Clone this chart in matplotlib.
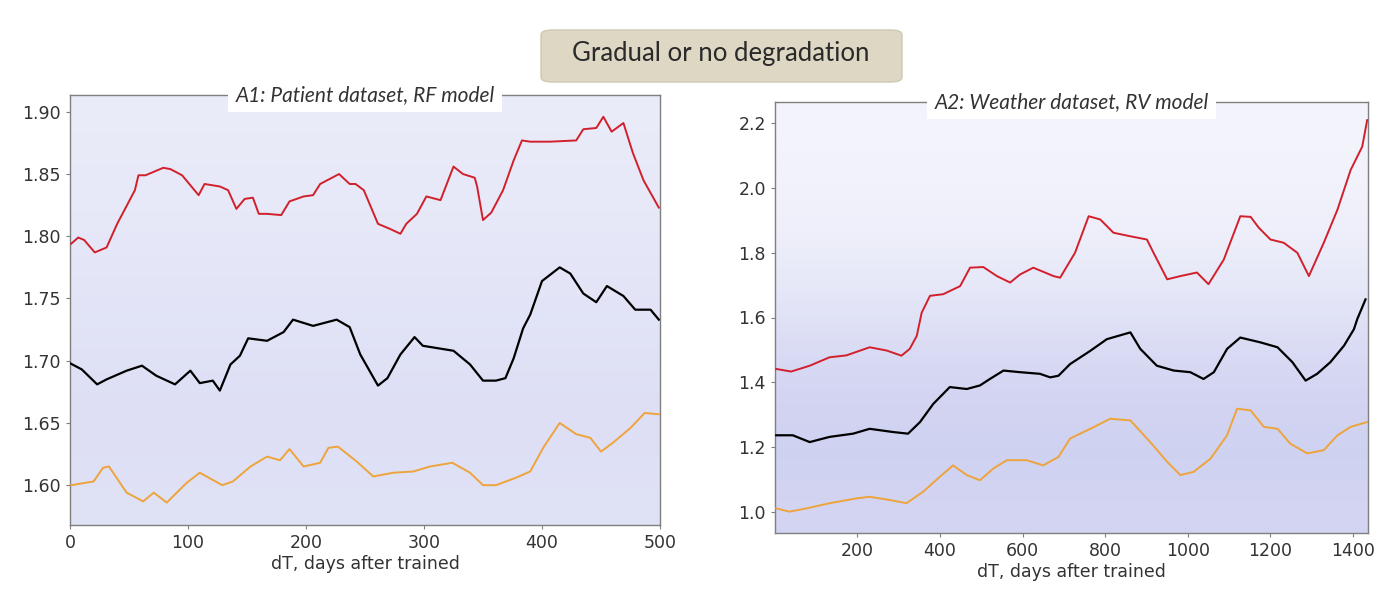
import numpy as np
import matplotlib
matplotlib.use('Agg')
import matplotlib.pyplot as plt
from matplotlib.colors import LinearSegmentedColormap
from matplotlib.patches import FancyBboxPatch

# ---- panel A1: patient dataset, RF model ----
a1_red_days = [1, 7, 12, 21, 31, 40, 55, 58, 64, 79, 85, 95, 109, 114, 127, 134, 141, 148, 155, 160,
               167, 179, 186, 198, 206, 212, 228, 237, 242, 249, 261, 271, 280, 285, 294, 302, 314, 325,
               333, 343, 345, 350, 357, 367, 376, 383, 390, 407, 429, 435, 446, 452, 459, 469, 477, 486, 499]
a1_red = [1.794, 1.799, 1.797, 1.787, 1.791, 1.810, 1.837, 1.849, 1.849, 1.855, 1.854, 1.849, 1.833, 1.842,
          1.840, 1.837, 1.822, 1.830, 1.831, 1.818, 1.818, 1.817, 1.828, 1.832, 1.833, 1.842, 1.850, 1.842,
          1.842, 1.837, 1.810, 1.806, 1.802, 1.810, 1.818, 1.832, 1.829, 1.856, 1.850, 1.847, 1.840, 1.813,
          1.819, 1.837, 1.861, 1.877, 1.876, 1.876, 1.877, 1.886, 1.887, 1.896, 1.884, 1.891, 1.867, 1.845, 1.823]

a1_black_days = [0, 10, 23, 31, 48, 61, 73, 89, 102, 110, 121, 127, 136, 144, 151, 167, 181, 189, 206,
                 226, 237, 246, 261, 269, 280, 292, 299, 325, 339, 350, 361, 369, 376, 384, 390, 400,
                 415, 424, 435, 446, 455, 469, 479, 492, 499]
a1_black = [1.698, 1.693, 1.681, 1.685, 1.692, 1.696, 1.688, 1.681, 1.692, 1.682, 1.684, 1.676, 1.697,
            1.704, 1.718, 1.716, 1.723, 1.733, 1.728, 1.733, 1.727, 1.705, 1.680, 1.686, 1.705, 1.719,
            1.712, 1.708, 1.697, 1.684, 1.684, 1.686, 1.702, 1.726, 1.737, 1.764, 1.775, 1.770, 1.754,
            1.747, 1.760, 1.752, 1.741, 1.741, 1.733]

a1_orange_days = [1, 20, 28, 33, 48, 62, 71, 82, 99, 110, 129, 138, 153, 167, 178, 186, 198, 212, 219,
                  227, 243, 257, 274, 291, 305, 324, 339, 350, 361, 378, 390, 401, 415, 429, 441, 450,
                  460, 475, 487, 499]
a1_orange = [1.600, 1.603, 1.614, 1.615, 1.594, 1.587, 1.594, 1.586, 1.602, 1.610, 1.600, 1.603, 1.615,
             1.623, 1.620, 1.629, 1.615, 1.618, 1.630, 1.631, 1.619, 1.607, 1.610, 1.611, 1.615, 1.618,
             1.610, 1.600, 1.600, 1.606, 1.611, 1.630, 1.650, 1.641, 1.638, 1.627, 1.634, 1.646, 1.658, 1.657]

# ---- panel A2: weather dataset, RV model ----
a2_red_days = [4, 40, 85, 133, 174, 230, 271, 307, 327, 344, 356, 376, 408, 449, 473, 505, 538, 570, 594,
               626, 675, 691, 727, 760, 788, 820, 861, 901, 917, 950, 982, 1022, 1050, 1087, 1127, 1152,
               1172, 1200, 1232, 1265, 1293, 1329, 1362, 1394, 1422, 1434]
a2_red = [1.441, 1.433, 1.451, 1.477, 1.483, 1.508, 1.498, 1.482, 1.503, 1.543, 1.615, 1.667, 1.672, 1.697,
          1.754, 1.756, 1.728, 1.708, 1.733, 1.754, 1.728, 1.723, 1.800, 1.913, 1.903, 1.862, 1.851, 1.841,
          1.800, 1.718, 1.728, 1.739, 1.703, 1.779, 1.913, 1.911, 1.877, 1.841, 1.831, 1.800, 1.728, 1.831,
          1.933, 2.056, 2.128, 2.210]

a2_black_days = [4, 44, 85, 133, 190, 230, 287, 323, 352, 384, 424, 465, 497, 521, 554, 594, 642, 667,
                 687, 715, 764, 804, 861, 885, 925, 966, 1006, 1038, 1063, 1095, 1127, 1176, 1217, 1253,
                 1285, 1313, 1345, 1378, 1402, 1410, 1430]
a2_black = [1.236, 1.236, 1.215, 1.231, 1.241, 1.256, 1.246, 1.241, 1.277, 1.333, 1.385, 1.379, 1.390,
            1.410, 1.436, 1.431, 1.426, 1.415, 1.420, 1.456, 1.497, 1.533, 1.554, 1.503, 1.451, 1.436,
            1.431, 1.410, 1.431, 1.503, 1.538, 1.523, 1.508, 1.462, 1.405, 1.426, 1.462, 1.513, 1.564,
            1.595, 1.656]

a2_orange_days = [4, 36, 77, 133, 198, 230, 279, 319, 360, 400, 432, 465, 497, 529, 562, 610, 650, 687,
                  715, 764, 812, 861, 909, 950, 982, 1014, 1055, 1095, 1119, 1152, 1184, 1217, 1248, 1289,
                  1329, 1362, 1394, 1434]
a2_orange = [1.010, 1.000, 1.010, 1.026, 1.041, 1.046, 1.036, 1.026, 1.062, 1.108, 1.143, 1.113, 1.097,
             1.133, 1.159, 1.159, 1.143, 1.169, 1.226, 1.256, 1.287, 1.282, 1.215, 1.154, 1.113, 1.123,
             1.164, 1.236, 1.318, 1.313, 1.262, 1.256, 1.210, 1.180, 1.190, 1.236, 1.262, 1.277]

# background dot cloud, read as relative density at a few heights (bottom -> top)
a1_cloud_levels = [1.56, 1.62, 1.67, 1.72, 1.77, 1.82, 1.87, 1.92]
a1_cloud_density = [0.36, 0.38, 0.38, 0.35, 0.32, 0.29, 0.26, 0.24]
a2_cloud_levels = [0.93, 1.10, 1.30, 1.50, 1.70, 1.90, 2.10, 2.27]
a2_cloud_density = [0.52, 0.55, 0.52, 0.42, 0.30, 0.20, 0.16, 0.14]

W, H = 1400, 594
fig = plt.figure(figsize=(14, 5.94), dpi=100)
fig.patch.set_facecolor('white')

cloud_cmap = LinearSegmentedColormap.from_list('cloud', ['#ffffff', '#a9ade6'])
GRAY = '#7f7f7f'


def make_panel(rect, xlim, ylim, title, levels, density,
               red_x, red_y, blk_x, blk_y, org_x, org_y):
    ax = fig.add_axes(rect)
    # dot cloud as a soft density image, rows follow the density levels
    grid = np.tile(np.array(density)[:, None], (1, 2))
    ax.imshow(grid, cmap=cloud_cmap, vmin=0, vmax=1, aspect='auto', origin='lower',
              interpolation='bilinear',
              extent=(xlim[0], xlim[1], levels[0], levels[-1]), zorder=0)
    ax.plot(red_x, red_y, color='#d1202b', lw=1.4, zorder=3)
    ax.plot(blk_x, blk_y, color='black', lw=1.6, zorder=3)
    ax.plot(org_x, org_y, color='#eea43c', lw=1.4, zorder=3)
    ax.set_xlim(*xlim)
    ax.set_ylim(*ylim)
    for side in ax.spines.values():
        side.set_color(GRAY)
        side.set_linewidth(1.0)
    ax.tick_params(colors=GRAY, labelcolor='#333333', labelsize=12.5, length=3)
    ax.set_xlabel('dT, days after trained', fontsize=12.5, color='#333333', labelpad=2)
    ax.text(0.5, 1.0, title, transform=ax.transAxes, ha='center', va='center',
            fontsize=15, style='italic', family='Lato', color='#333333',
            bbox=dict(boxstyle='square,pad=0.35', fc='white', ec='none'), zorder=5)
    return ax


ax1 = make_panel([70 / W, 1 - 525 / H, 590 / W, 430 / H], (0, 500), (1.568, 1.9135),
                 'A1: Patient dataset, RF model', a1_cloud_levels, a1_cloud_density,
                 a1_red_days, a1_red, a1_black_days, a1_black, a1_orange_days, a1_orange)
ax1.set_xticks([0, 100, 200, 300, 400, 500])
ax1.set_yticks([1.60, 1.65, 1.70, 1.75, 1.80, 1.85, 1.90])
ax1.set_yticklabels(['1.60', '1.65', '1.70', '1.75', '1.80', '1.85', '1.90'])

ax2 = make_panel([775 / W, 1 - 533 / H, 593 / W, 431 / H], (1, 1436), (0.934, 2.266),
                 'A2: Weather dataset, RV model', a2_cloud_levels, a2_cloud_density,
                 a2_red_days, a2_red, a2_black_days, a2_black, a2_orange_days, a2_orange)
ax2.set_xticks([200, 400, 600, 800, 1000, 1200, 1400])
ax2.set_yticks([1.0, 1.2, 1.4, 1.6, 1.8, 2.0, 2.2])

# header box
box = FancyBboxPatch((541 / W, 1 - 82 / H), 361 / W, 52 / H,
                     boxstyle='round,pad=0,rounding_size=0.008', transform=fig.transFigure,
                     fc='#ddd7c3', ec='#cfc9b4', lw=1.0)
fig.patches.append(box)
fig.text(721 / W, 1 - 54 / H, 'Gradual or no degradation', ha='center', va='center',
         fontsize=18.5, family='Lato', color='#2a2a2a')

fig.savefig('out.png', dpi=100)
